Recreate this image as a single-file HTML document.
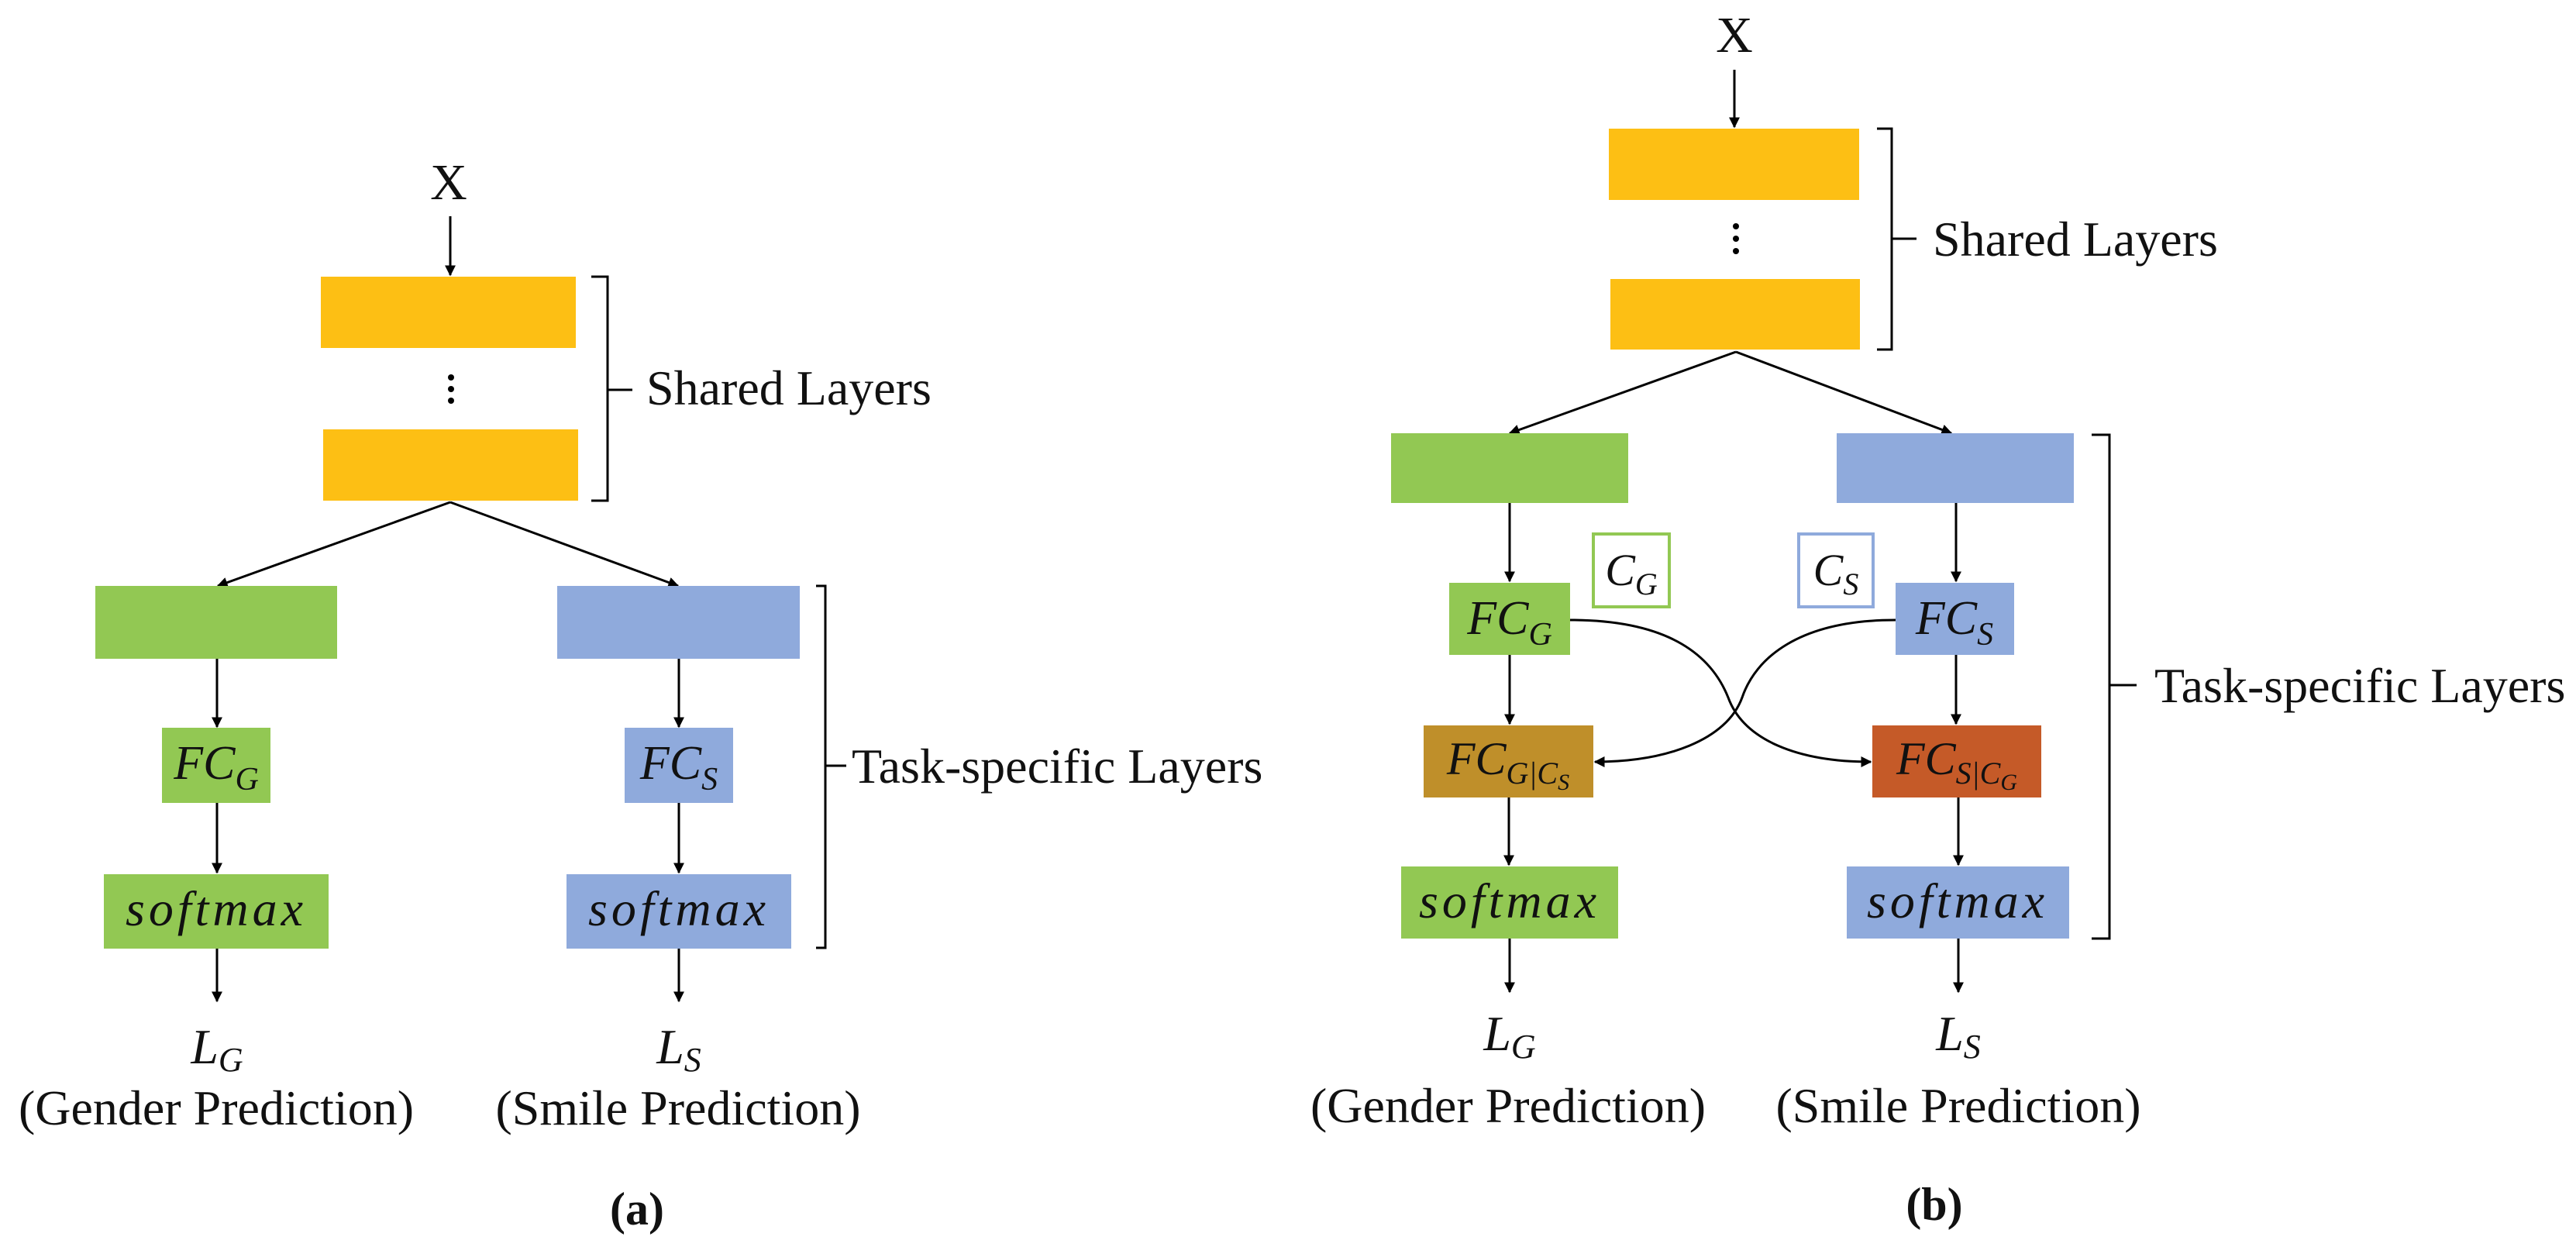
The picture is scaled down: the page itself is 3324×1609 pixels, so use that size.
<!DOCTYPE html>
<html><head><meta charset="utf-8"><style>
html,body{margin:0;padding:0;background:#fff;}
svg{display:block;}
text{fill:#111;}
.m{font-style:italic;}
</style></head><body>
<svg width="3324" height="1609" viewBox="0 0 3324 1609" xmlns="http://www.w3.org/2000/svg" font-family="'Liberation Serif', 'Times New Roman', 'DejaVu Serif', serif">
<defs>
<marker id="ah" viewBox="0 0 10 10" refX="9" refY="5" markerWidth="14" markerHeight="14" markerUnits="userSpaceOnUse" orient="auto"><path d="M0,0 L10,5 L0,10 Z" fill="#000"/></marker>
</defs>
<g stroke="#000" stroke-width="3" fill="none" marker-end="url(#ah)">
<line x1="581" y1="279" x2="581" y2="355"/>
<line x1="581" y1="648" x2="281" y2="756"/>
<line x1="581" y1="648" x2="875" y2="756"/>
<line x1="280" y1="850" x2="280" y2="938"/>
<line x1="876" y1="850" x2="876" y2="938"/>
<line x1="280" y1="1036" x2="280" y2="1126"/>
<line x1="876" y1="1036" x2="876" y2="1126"/>
<line x1="280" y1="1224" x2="280" y2="1292"/>
<line x1="876" y1="1224" x2="876" y2="1292"/>
<line x1="2238" y1="90" x2="2238" y2="164"/>
<line x1="2240" y1="454" x2="1948" y2="559"/>
<line x1="2240" y1="454" x2="2518" y2="559"/>
<line x1="1948" y1="649" x2="1948" y2="750"/>
<line x1="2524" y1="649" x2="2524" y2="750"/>
<line x1="1948" y1="845" x2="1948" y2="934"/>
<line x1="2524" y1="845" x2="2524" y2="934"/>
<line x1="1947" y1="1029" x2="1947" y2="1116"/>
<line x1="2527" y1="1029" x2="2527" y2="1116"/>
<line x1="1948" y1="1211" x2="1948" y2="1280"/>
<line x1="2527" y1="1211" x2="2527" y2="1280"/>
<path d="M2026,800 C2160,800 2210,850 2230,900 C2250,955 2320,983 2414,983"/>
<path d="M2446,800 C2320,800 2265,850 2248,900 C2228,955 2150,983 2058,983"/>
</g>
<g stroke="#000" stroke-width="3" fill="none">
<path d="M763,357 H784 V646 H763 M784,503 H816"/>
<path d="M1053,756 H1065 V1223 H1053 M1065,988 H1092"/>
<path d="M2422,166 H2441 V451 H2422 M2441,308 H2473"/>
<path d="M2699,561 H2722 V1211 H2699 M2722,884 H2757"/>
</g>
<rect x="414" y="357" width="329" height="92" fill="#FDBF14"/>
<rect x="417" y="554" width="329" height="92" fill="#FDBF14"/>
<rect x="123" y="756" width="312" height="94" fill="#92C853"/>
<rect x="719" y="756" width="313" height="94" fill="#8FAADC"/>
<rect x="209" y="939" width="140" height="97" fill="#92C853"/>
<rect x="806" y="939" width="140" height="97" fill="#8FAADC"/>
<rect x="134" y="1128" width="290" height="96" fill="#92C853"/>
<rect x="731" y="1128" width="290" height="96" fill="#8FAADC"/>
<rect x="2076" y="166" width="323" height="92" fill="#FDBF14"/>
<rect x="2078" y="360" width="322" height="91" fill="#FDBF14"/>
<rect x="1795" y="559" width="306" height="90" fill="#92C853"/>
<rect x="2370" y="559" width="306" height="90" fill="#8FAADC"/>
<rect x="2056" y="689" width="98" height="94" fill="#fff" stroke="#92C853" stroke-width="4"/>
<rect x="2321" y="689" width="96" height="94" fill="#fff" stroke="#8FAADC" stroke-width="4"/>
<rect x="1870" y="752" width="156" height="93" fill="#92C853"/>
<rect x="2446" y="752" width="153" height="93" fill="#8FAADC"/>
<rect x="1837" y="936" width="219" height="93" fill="#BF8F2A"/>
<rect x="2416" y="936" width="218" height="93" fill="#C55A28"/>
<rect x="1808" y="1118" width="280" height="93" fill="#92C853"/>
<rect x="2383" y="1118" width="287" height="93" fill="#8FAADC"/>
<g fill="#000"><circle cx="582" cy="487" r="4"/><circle cx="582" cy="502" r="4"/><circle cx="582" cy="517" r="4"/>
<circle cx="2240" cy="292" r="4"/><circle cx="2240" cy="308" r="4"/><circle cx="2240" cy="324" r="4"/></g>
<text x="579" y="257" font-size="66" text-anchor="middle">X</text>
<text x="834" y="522" font-size="64">Shared Layers</text>
<text x="1099" y="1010" font-size="64">Task-specific Layers</text>
<text class="m" x="279" y="1005" font-size="62" text-anchor="middle">FC<tspan font-size="42" dy="14">G</tspan></text>
<text class="m" x="876" y="1005" font-size="62" text-anchor="middle">FC<tspan font-size="42" dy="14">S</tspan></text>
<text class="m" x="279" y="1194" font-size="64" text-anchor="middle" letter-spacing="5">softmax</text>
<text class="m" x="876" y="1194" font-size="64" text-anchor="middle" letter-spacing="5">softmax</text>
<text class="m" x="280" y="1372" font-size="64" text-anchor="middle">L<tspan font-size="44" dy="10">G</tspan></text>
<text class="m" x="876" y="1372" font-size="64" text-anchor="middle">L<tspan font-size="44" dy="10">S</tspan></text>
<text x="279" y="1451" font-size="64" text-anchor="middle">(Gender Prediction)</text>
<text x="875" y="1451" font-size="64" text-anchor="middle">(Smile Prediction)</text>
<text x="822" y="1580" font-size="60" font-weight="bold" text-anchor="middle">(a)</text>
<text x="2238" y="67" font-size="66" text-anchor="middle">X</text>
<text x="2494" y="330" font-size="64">Shared Layers</text>
<text x="2780" y="906" font-size="64">Task-specific Layers</text>
<text class="m" x="2105" y="755" font-size="58" text-anchor="middle">C<tspan font-size="40" dy="12">G</tspan></text>
<text class="m" x="2369" y="755" font-size="58" text-anchor="middle">C<tspan font-size="40" dy="12">S</tspan></text>
<text class="m" x="1948" y="818" font-size="62" text-anchor="middle">FC<tspan font-size="42" dy="14">G</tspan></text>
<text class="m" x="2522" y="818" font-size="62" text-anchor="middle">FC<tspan font-size="42" dy="14">S</tspan></text>
<text class="m" x="1946" y="999" font-size="60" text-anchor="middle">FC<tspan font-size="40" dy="12">G|C</tspan><tspan font-size="30" dy="8">S</tspan></text>
<text class="m" x="2525" y="999" font-size="60" text-anchor="middle">FC<tspan font-size="40" dy="12">S|C</tspan><tspan font-size="30" dy="8">G</tspan></text>
<text class="m" x="1948" y="1184" font-size="64" text-anchor="middle" letter-spacing="5">softmax</text>
<text class="m" x="2526" y="1184" font-size="64" text-anchor="middle" letter-spacing="5">softmax</text>
<text class="m" x="1948" y="1355" font-size="64" text-anchor="middle">L<tspan font-size="44" dy="10">G</tspan></text>
<text class="m" x="2527" y="1355" font-size="64" text-anchor="middle">L<tspan font-size="44" dy="10">S</tspan></text>
<text x="1946" y="1448" font-size="64" text-anchor="middle">(Gender Prediction)</text>
<text x="2527" y="1448" font-size="64" text-anchor="middle">(Smile Prediction)</text>
<text x="2496" y="1574" font-size="60" font-weight="bold" text-anchor="middle">(b)</text>
</svg>
</body></html>
